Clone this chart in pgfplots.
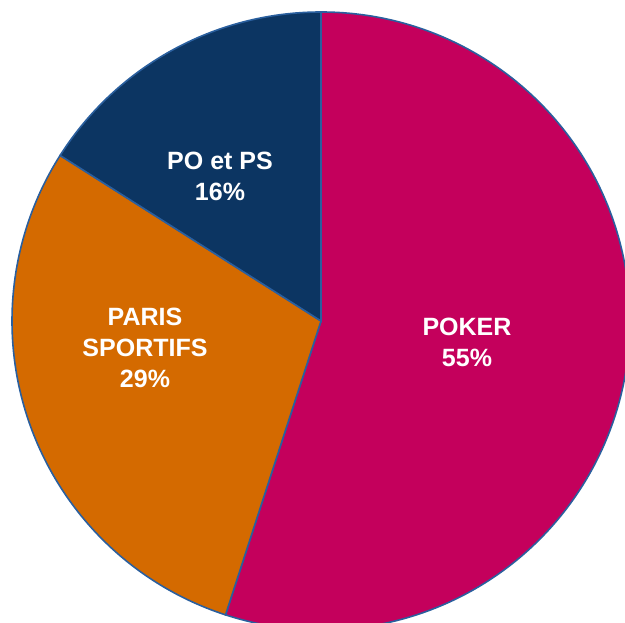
\documentclass[border=0pt]{standalone}
\usepackage{pgfplots}
\pgfplotsset{compat=1.18}
\usepackage{pgfplotstable}
\usepackage{fontspec}
\setmainfont{Liberation Sans}

\definecolor{pokerc}{HTML}{C4005C}
\definecolor{parisc}{HTML}{D46A00}
\definecolor{poc}{HTML}{0C3562}
\definecolor{edgec}{HTML}{2A5F9E}

% shares in percent, clockwise from the top
\pgfplotstableread{
name value
POKER 55
PARIS 29
POPS 16
}\shares

\tikzset{lbl/.style={text=white, align=center,
    font=\bfseries\fontsize{25}{31}\selectfont}}

\begin{document}
\begin{tikzpicture}
\pgfplotstablegetelem{0}{value}\of\shares \let\vA\pgfplotsretval
\pgfplotstablegetelem{1}{value}\of\shares \let\vB\pgfplotsretval
\pgfplotstablegetelem{2}{value}\of\shares \let\vC\pgfplotsretval
\pgfmathsetmacro\aA{90}
\pgfmathsetmacro\aB{\aA-3.6*\vA}
\pgfmathsetmacro\aC{\aB-3.6*\vB}
\pgfmathsetmacro\aD{\aC-3.6*\vC}
\def\cx{321}\def\cy{302}\def\R{309}
\begin{axis}[
    x=1pt, y=1pt,
    xmin=0, xmax=625, ymin=0, ymax=623,
    hide axis, clip=true,
]
\filldraw[fill=pokerc, draw=edgec, line width=1.6pt]
    (axis cs:\cx,\cy) -- (axis cs:{\cx+\R*cos(\aA)},{\cy+\R*sin(\aA)})
    arc[start angle=\aA, end angle=\aB, radius=\R pt] -- cycle;
\filldraw[fill=parisc, draw=edgec, line width=1.6pt]
    (axis cs:\cx,\cy) -- (axis cs:{\cx+\R*cos(\aB)},{\cy+\R*sin(\aB)})
    arc[start angle=\aB, end angle=\aC, radius=\R pt] -- cycle;
\filldraw[fill=poc, draw=edgec, line width=1.6pt]
    (axis cs:\cx,\cy) -- (axis cs:{\cx+\R*cos(\aC)},{\cy+\R*sin(\aC)})
    arc[start angle=\aC, end angle=\aD, radius=\R pt] -- cycle;
\node[lbl] at (axis cs:467,281) {POKER\\55\%};
\node[lbl] at (axis cs:145,275) {PARIS\\SPORTIFS\\29\%};
\node[lbl] at (axis cs:220,447) {PO et PS\\16\%};
\end{axis}
\pgfresetboundingbox
\useasboundingbox (current axis.south west) rectangle (current axis.north east);
\end{tikzpicture}
\end{document}
